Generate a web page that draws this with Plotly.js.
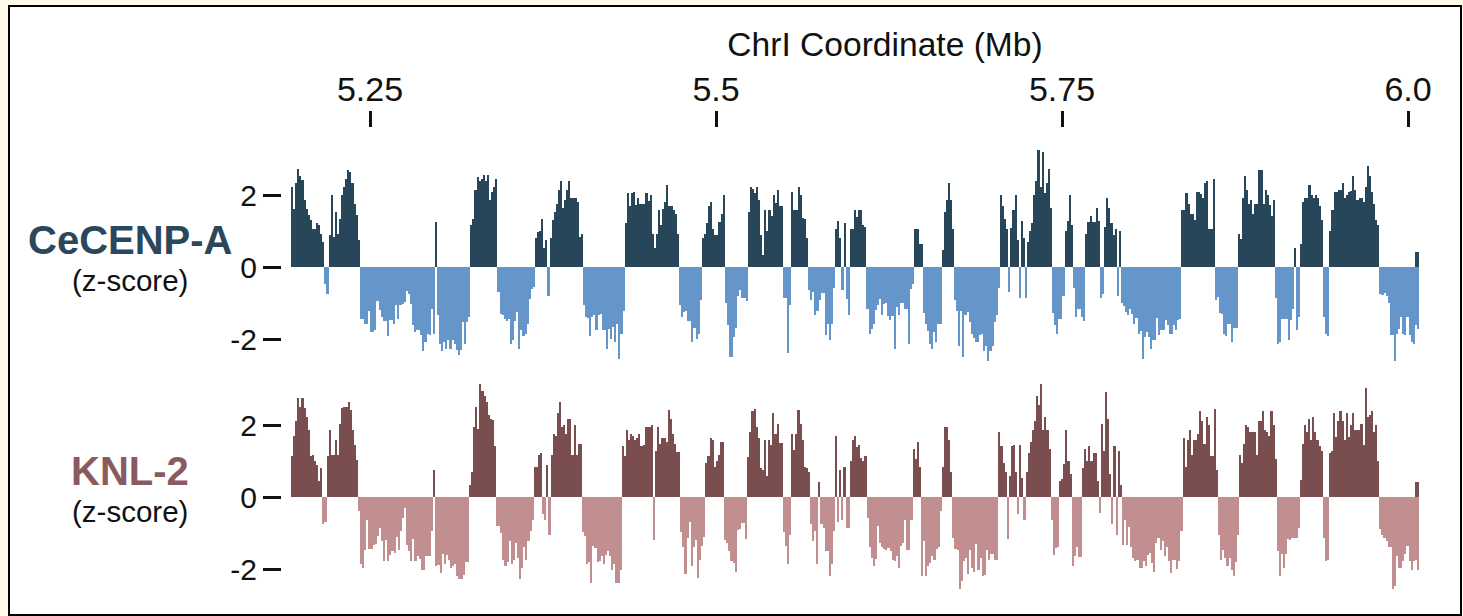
<!DOCTYPE html>
<html>
<head>
<meta charset="utf-8">
<script src="https://cdn.plot.ly/plotly-3.0.1.min.js"></script>
<style>html,body{margin:0;padding:0;background:#fffbea}#chart{width:1463px;height:616px}</style>
</head>
<body>
<div id="chart"></div>
<script>
const cenpValues = [
2.22,1.62,2.33,2.73,2.52,2.43,1.87,1.62,1.44,1.30,1.06,1.06,1.22,1.16,.93,.69,-.46,-.74,.88,1.99,.83,1.53,.93,1.34,1.99,2.22,2.45,2.69,2.64,2.33,1.76,1.44,.76,
-1.45,-1.45,-1.57,-1.57,-1.23,-1.81,-1.81,-1.76,-.95,-1.2,-1.39,-1.5,-1.5,-1.93,-1.46,-1.46,-1.57,-1.06,-1.44,-1.06,-1.02,-.97,-.67,-.74,-1.02,-1.62,-1.81,-1.76,-1.76,-1.9,-2.33,-2.08,-1.85,-1.9,-1.16,-1.85,1.25,-1.34,-2.13,-2.33,-2.08,-2.27,-2.04,-2.27,-2.04,-2.13,-2.31,-2.45,-2.31,-1.53,-2.15,-1.53,-1.39,
1.16,1.34,2.15,2.5,2.39,2.45,2.55,2.39,2.56,1.87,2.08,2.22,2.45,
-.69,-1.3,-1.34,-1.44,-1.5,-1.44,-2.13,-2.04,-1.5,-1.25,-2.27,-1.76,-1.93,-1.87,-1.57,-.88,-.6,-.56,
.81,.97,1.0,1.34,.54,.76,-.8,.81,1.3,1.53,1.76,2.15,2.39,1.64,1.87,2.15,2.39,1.93,1.93,1.93,1.81,.83,.93,
-1.06,-1.39,-1.41,-1.93,-1.39,-1.34,-1.74,-1.34,-1.3,-1.74,-1.74,-2.27,-1.71,-1.99,-1.67,-2.08,-1.57,-2.56,-1.85,-1.22,
1.22,2.06,1.69,2.06,2.08,1.71,1.93,1.74,1.74,1.74,2.06,1.83,1.99,.93,.54,.93,1.59,1.18,1.62,1.81,2.29,1.69,1.69,1.57,1.46,.93,
-1.06,-1.39,-1.25,-1.22,-1.51,-1.51,-2.08,-1.69,-1.99,-1.85,-.93,
.81,.93,1.23,1.69,1.81,1.06,.88,.88,1.25,1.46,1.99,
-.99,-1.62,-2.5,-2.5,-1.94,-1.69,-.81,-.65,-.85,-.85,-.94,
1.53,2.22,2.18,2.06,2.22,1.87,.88,.32,1.57,1.0,1.57,1.41,1.99,1.78,2.15,1.69,1.69,
-.86,-.86,-2.38,-1.05,
2.08,1.57,1.57,2.22,1.99,1.37,1.34,.81,
-.63,-.93,-.69,-1.34,-1.22,-.93,-.71,-.71,-1.9,-1.57,-2.04,-1.57,-.58,
1.05,1.28,.81,-.65,1.22,-.88,-1.34,1.05,1.05,1.57,1.39,1.57,1.57,1.16,1.11,
-1.16,-1.85,-1.71,-1.57,-1.2,-1.06,-.88,-1.34,-1.02,-1.0,-1.37,-1.46,-1.37,-2.27,-1.11,-1.34,-1.0,-1.0,-1.16,-1.18,-2.15,-.6,-.46,
1.05,1.05,.65,.65,
-1.28,-1.57,-1.78,-2.15,-2.27,-1.81,-2.08,-1.57,-1.57,
.46,1.53,1.87,2.33,1.87,1.05,
-.93,-1.22,-2.2,-1.22,-2.5,-1.34,-1.25,-1.53,-1.85,-1.96,-2.08,-2.08,-1.9,-1.85,-2.33,-2.2,-2.61,-2.33,-2.2,-1.53,-1.34,-.58,
1.99,1.69,1.34,1.05,-.69,1.09,1.57,1.99,.76,-.86,1.28,.81,-.86,.69,1.0,1.22,1.99,2.39,3.26,2.22,3.19,2.06,2.33,2.73,1.64,
-1.28,-1.62,-1.85,-1.45,-1.45,-.8,
1.0,1.28,1.99,1.16,
-.58,-1.39,-1.16,-1.16,-1.39,-1.51,
.93,1.25,1.41,1.25,1.25,1.64,1.28,
-.86,-.74,
1.11,1.93,1.64,1.22,.88,1.05,
-.8,
1.0,
-.99,-1.08,-1.25,-1.34,-1.16,-1.31,-1.57,-1.41,-1.85,-1.78,-2.55,-1.94,-1.81,-1.94,-2.27,-2.04,-2.04,-1.41,-1.9,-1.76,-1.76,-1.48,-1.62,-1.85,-1.85,-1.62,-1.76,-1.46,-1.44,
1.57,1.57,2.06,1.76,1.46,1.46,1.3,2.08,2.08,2.04,1.93,2.33,2.39,1.05,1.05,2.45,
-.93,-.83,-1.28,-1.31,-1.87,-1.92,-1.57,-1.57,-2.08,-1.69,-1.69,
.93,.79,1.93,2.52,2.15,1.76,1.87,1.46,1.74,1.74,2.69,2.69,1.74,2.15,1.99,1.71,1.41,1.87,
-.86,-2.13,-2.08,-1.45,-1.45,-1.45,-2.04,-1.48,-1.16,
.53,-1.74,-1.39,
.65,1.81,1.93,1.93,2.27,1.99,1.93,1.99,1.93,1.69,1.3,
-1.39,-1.85,-1.92,
1.0,1.57,2.08,2.08,2.15,2.13,2.33,1.93,1.99,2.08,2.11,2.52,2.15,1.85,1.93,1.93,1.81,2.22,2.8,2.52,2.08,1.76,1.3,1.16,
-.74,-.79,-.71,-.81,-1.0,-1.9,-1.9,-2.61,-1.87,-1.71,-1.39,-1.87,-1.9,-1.39,-1.9,-2.08,-2.15,
.42,.42
];
const knlValues = [
1.13,1.69,2.1,2.75,2.5,2.75,2.47,2.21,1.87,1.13,1.18,1.01,.88,.45,.81,-.74,-.69,
1.13,1.87,1.18,1.18,1.57,1.18,2.04,2.47,2.5,2.5,2.63,2.43,1.87,1.45,1.04,
-.4,-1.86,-1.97,-1.46,-.65,-1.44,-1.44,-1.34,-1.31,-1.09,-.86,-1.21,-1.79,-1.19,-1.79,-1.6,-1.51,-1.56,-1.12,-1.46,-.95,-.58,-.31,-1.34,-1.51,-1.79,-1.16,-1.79,-1.65,-1.71,-2.04,-2.04,-1.65,-1.65,-1.65,-.94,
.76,
-1.91,-1.88,-2.11,-1.58,-1.86,-1.6,-1.74,-1.97,-1.93,-1.86,-2.2,-2.27,-2.27,-2.16,-1.81,-1.81,
.34,.69,1.94,2.5,1.9,3.14,2.94,2.8,2.63,2.29,2.17,2.15,1.41,
-.81,-.81,-1.0,-1.74,-1.93,-1.81,-1.23,-1.86,-1.74,-1.28,-1.69,-2.27,-1.97,-1.39,-1.74,-1.23,-.95,-.63,
.82,.82,1.18,1.22,-.46,-.63,.88,-1.05,
1.18,1.75,1.7,2.33,2.63,1.94,2.0,1.75,2.17,2.17,1.18,2.0,1.18,1.47,1.47,
-.98,-1.09,-1.86,-1.81,-2.39,-1.35,-1.42,-1.81,-1.79,-1.65,-1.86,-1.6,-1.51,-1.65,-2.04,-1.86,-2.39,-2.39,-2.02,
1.41,1.13,1.87,1.59,1.75,1.7,1.57,1.64,1.75,1.41,1.45,1.94,1.94,1.94,2.0,
-1.2,
1.29,1.94,1.47,1.64,1.64,1.53,2.41,2.17,1.75,1.47,1.24,1.24,
-.97,-1.4,-2.14,-1.14,-.69,-1.93,-1.4,-1.19,-2.25,-1.74,-1.37,-1.11,
.94,1.13,1.64,1.57,.82,1.01,1.18,1.52,1.52,
-1.2,-1.28,-1.51,-1.79,-1.83,-2.09,-.91,-.88,-.72,-.72,-1.16,
1.1,1.81,2.4,2.44,1.94,1.64,.81,.76,1.57,.57,1.57,1.44,2.33,1.75,2.04,1.5,1.5,
-.98,-1.35,-1.86,-1.06,
1.75,1.3,1.75,2.41,2.04,1.57,.82,.81,.69,
-.74,-1.23,-.94,-1.86,.41,
-.74,-.86,-1.51,-1.51,-2.2,-1.86,-.94,
1.7,-.69,.76,-.63,.82,-.86,-.86,
.99,1.57,1.7,1.38,1.45,1.08,1.01,1.13,
-.58,-1.4,-1.69,-1.93,-1.72,-.81,-1.28,-1.4,-1.44,-1.46,-1.42,-1.51,-1.74,-1.79,-1.65,-1.97,-1.37,-1.28,-.63,-1.46,-1.46,-.63,
1.34,1.06,1.52,.82,
-2.2,-1.21,-2.2,-1.93,-1.83,-1.65,-1.74,-1.44,-1.39,-.38,
.82,1.94,1.94,1.57,.69,
-1.14,-1.44,-1.46,-2.55,-2.34,-1.79,-1.69,-2.14,-1.46,-1.97,-2.08,-1.31,-2.02,-1.69,-2.2,-2.16,-1.46,-1.74,-1.57,-1.57,-1.74,-1.74,
1.81,1.41,.94,.69,-1.16,.59,1.41,1.45,.69,-.46,1.45,.53,-.65,
.69,1.22,1.52,1.87,2.1,2.8,2.56,3.14,1.87,2.21,1.87,1.34,
-.63,-1.62,-1.42,-1.39,
.45,.51,.93,1.87,.99,.65,
-1.91,-1.65,-1.4,-1.68,-1.68,
.81,1.34,1.01,1.41,1.01,1.22,1.22,.45,
-.44,
2.04,1.29,2.92,2.17,.65,
-.74,1.41,-1.05,1.29,.34,
-1.34,-.65,-1.34,-.83,-1.4,-1.69,-1.79,-1.74,-1.97,-1.97,-1.79,-1.93,-1.6,-1.56,-1.83,-2.09,-1.28,-1.14,-1.46,-1.23,-1.65,-1.4,-1.79,-2.11,-1.74,-1.74,-1.99,-1.77,-.94,
1.64,.82,1.57,1.87,1.18,1.57,1.57,1.75,2.4,2.1,1.47,2.21,2.0,1.13,1.13,2.44,.76,
-1.05,-1.74,-1.46,-1.69,-1.91,-1.69,-2.02,-2.2,-1.81,-1.06,
1.18,.94,1.47,2.0,1.94,1.81,1.81,1.81,1.18,2.1,2.1,2.4,1.87,1.81,1.7,2.4,2.0,1.06,
-1.49,-2.2,-1.58,-1.97,-1.58,-1.16,-1.2,-1.14,-1.14,-1.14,-.86,
.48,1.47,2.0,1.81,2.17,1.57,2.21,1.81,1.57,1.41,1.29,
-1.14,-1.79,-1.74,
1.22,1.29,2.33,1.66,2.1,2.4,2.1,1.57,2.33,1.66,2.01,2.33,1.87,1.87,1.87,2.03,1.45,3.03,2.21,2.27,2.4,1.81,2.0,1.01,
-.88,-1.05,-1.14,-1.23,-1.4,-1.4,-2.55,-2.48,-1.65,-1.97,-1.97,-1.79,-1.58,-1.37,-1.79,-2.04,-1.79,
.42,.42
];
const cenpTail = [-1.62,-1.71];
const knlTail = [-1.74,-2.04];
const xTickVals = [5.25,5.5,5.75,6.0];
const xTickText = ['5.25','5.5','5.75','6.0'];
const yTickVals = [-2,0,2];
const yTickText = ['-2','0','2'];
const xStart = 5.1929, xEnd = 6.00795;
const cenpUp = '#27465a', cenpDown = '#6595c9', knlUp = '#7a4e4f', knlDown = '#c28f90';
const W = 1463, H = 616;
const font = '"Liberation Sans", Arial, sans-serif';

function series(values, tail, up, down, yaxis) {
  const dx = (xEnd - xStart) / values.length;
  const xs = values.map((_, i) => xStart + dx * (i + 0.5));
  return [
    {type:'bar', x:xs, y:values, width:dx, yaxis:yaxis,
     marker:{color:values.map(v => v > 0 ? up : down), line:{width:0}}, hoverinfo:'x+y', showlegend:false},
    {type:'bar', x:xs.slice(-tail.length), y:tail, width:dx, yaxis:yaxis,
     marker:{color:down, line:{width:0}}, hoverinfo:'x+y', showlegend:false}
  ];
}

function yAxis(top, bottom, zeroPx) {
  return {
    domain:[1 - bottom / H, 1 - top / H],
    range:[(zeroPx - bottom) / 36, (zeroPx - top) / 36],
    anchor:'free', position:281 / W, side:'left',
    tickmode:'array', tickvals:yTickVals, ticktext:yTickText,
    ticks:'outside', ticklen:18, tickwidth:2.5, tickcolor:'#111',
    tickfont:{family:font, size:30, color:'#111'},
    showgrid:false, zeroline:false, showline:false, fixedrange:true
  };
}

const note = (text, y, size, color, bold) => ({
  text: bold ? '<b>' + text + '</b>' : text,
  xref:'paper', yref:'paper', x:130 / W, y:1 - y / H, xanchor:'center', yanchor:'middle',
  showarrow:false, font:{family:font, size:size, color:color}
});

Plotly.newPlot('chart', [
  ...series(cenpValues, cenpTail, cenpUp, cenpDown, 'y'),
  ...series(knlValues, knlTail, knlUp, knlDown, 'y2')
], {
  width:W, height:H,
  margin:{l:0, r:0, t:0, b:0, pad:0},
  paper_bgcolor:'#fffbea', plot_bgcolor:'rgba(0,0,0,0)',
  barmode:'overlay', bargap:0, showlegend:false,
  title:{text:'ChrI Coordinate (Mb)', x:885 / W, y:1 - 44 / H, xanchor:'center', yanchor:'middle',
         font:{family:font, size:33.6, color:'#111'}},
  xaxis:{
    domain:[291 / W, 1419 / W], range:[xStart, xEnd],
    anchor:'free', position:1 - 127 / H, side:'top',
    tickmode:'array', tickvals:xTickVals, ticktext:xTickText,
    ticks:'outside', ticklen:16, tickwidth:2.5, tickcolor:'#111', ticklabelstandoff:-4,
    tickfont:{family:font, size:34, color:'#111'},
    showgrid:false, zeroline:false, showline:false, fixedrange:true
  },
  yaxis:yAxis(140, 365, 267),
  yaxis2:yAxis(375, 600, 497),
  shapes:[{type:'rect', xref:'paper', yref:'paper', layer:'below',
           x0:9 / W, x1:1461 / W, y0:1 - 615 / H, y1:1 - 6 / H,
           fillcolor:'#ffffff', line:{color:'#000', width:2}}],
  annotations:[
    note('CeCENP-A', 240, 40, '#2b475c', true),
    note('(z-score)', 280, 29.5, '#111', false),
    note('KNL-2', 471, 40, '#8a5b5e', true),
    note('(z-score)', 511, 29.5, '#111', false)
  ]
}, {displayModeBar:false, responsive:false});
</script>
</body>
</html>
